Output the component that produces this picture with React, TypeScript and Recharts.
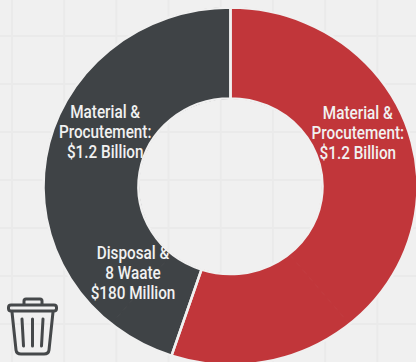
import { Cell, Pie, PieChart } from 'recharts'

// cost slices in $ millions, clockwise from twelve o'clock
const sliceNames = ['Material & Procurement', 'Unlabelled remainder', 'Disposal & Waste', 'Material & Procurement (dark)']
const sliceValues = [1200, 494, 180, 1200]
const sliceColors = ['#c1363a', '#c1363a', '#3f4346', '#3f4346']
const sliceLabels = [
  ['Material &', 'Procutement:', '$1.2 Billion'],
  [],
  ['Disposal &', '8 Waate', '$180 Million'],
  ['Material &', 'Procutement:', '$1.2 Billion'],
]
// the two coloured bands, only used to draw the gap between them
const redTotal = sliceValues[0] + sliceValues[1]
const darkTotal = sliceValues[2] + sliceValues[3]

const chartData = sliceNames.map((name, i) => ({ name, value: sliceValues[i] }))
const bandData = [
  { name: 'Red band', value: redTotal },
  { name: 'Dark band', value: darkTotal },
]

const BACKGROUND = '#f0f0f0'
const SQUASH_Y = 0.955 // the ring is a little wider than tall
const LINE_HEIGHT = 20
const labelNudge = [
  { dx: -4, dy: -9 },
  { dx: 0, dy: 0 },
  { dx: -30, dy: -31 },
  { dx: 6, dy: -10 },
]

interface SliceLabelProps {
  cx: number
  cy: number
  midAngle: number
  innerRadius: number
  outerRadius: number
  index: number
}

function SliceLabel({ cx, cy, midAngle, innerRadius, outerRadius, index }: SliceLabelProps) {
  const lines = sliceLabels[index]
  if (lines.length === 0) return null
  const r = (innerRadius + outerRadius) / 2
  const rad = (-midAngle * Math.PI) / 180
  const x = cx + r * Math.cos(rad) + labelNudge[index].dx
  const y = cy + r * Math.sin(rad) + labelNudge[index].dy
  return (
    <text
      transform={`translate(${x} ${y}) scale(0.9 ${1.1 / SQUASH_Y})`}
      textAnchor="middle"
      fill="#f1f1f1"
      fontFamily="Roboto, sans-serif"
      fontSize={17}
      fontWeight={500}
    >
      {lines.map((line, i) => (
        <tspan key={i} x={0} y={((i - 1) * LINE_HEIGHT + 6) / 1.1}>
          {line}
        </tspan>
      ))}
    </text>
  )
}

function TrashIcon() {
  return (
    <svg
      width={56}
      height={64}
      viewBox="0 0 56 64"
      style={{ position: 'absolute', left: 4, top: 295 }}
      fill="none"
      stroke="#45484a"
      strokeWidth={3}
      strokeLinecap="round"
      strokeLinejoin="round"
    >
      <path d="M20 9 V6 Q20 4 22 4 H36 Q38 4 38 6 V9" />
      <rect x={4.5} y={10} width={48} height={6} rx={2.5} />
      <path d="M8 17 L12 55 Q12.5 59 17 59 H40 Q44.5 59 45 55 L49 17" />
      <path d="M18 24 L19.5 51 M28.5 24 V51 M39 24 L37.5 51" />
    </svg>
  )
}

export default function App() {
  return (
    <div
      style={{
        position: 'absolute',
        left: 0,
        top: 0,
        width: 416,
        height: 362,
        overflow: 'hidden',
        backgroundColor: BACKGROUND,
        backgroundImage:
          'linear-gradient(#eaeaea 2px, transparent 2px), linear-gradient(90deg, #eaeaea 2px, transparent 2px)',
        backgroundSize: '52.2px 48px',
        backgroundPosition: '11px 35px',
      }}
    >
      <div style={{ position: 'absolute', left: 0, top: 0, transform: `scaleY(${SQUASH_Y})`, transformOrigin: '0 0' }}>
        <PieChart width={420} height={390} margin={{ top: 0, right: 0, bottom: 0, left: 0 }}>
          <Pie
            data={chartData}
            dataKey="value"
            cx={230.5}
            cy={195}
            innerRadius={92}
            outerRadius={187}
            startAngle={90}
            endAngle={-270}
            label={SliceLabel}
            labelLine={false}
            isAnimationActive={false}
          >
            {chartData.map((d, i) => (
              <Cell key={d.name} fill={sliceColors[i]} stroke={sliceColors[i]} strokeWidth={1} />
            ))}
          </Pie>
          {/* outline only, leaves a pale gap where the two bands meet */}
          <Pie
            data={bandData}
            dataKey="value"
            cx={230.5}
            cy={195}
            innerRadius={92}
            outerRadius={187}
            startAngle={90}
            endAngle={-270}
            fill="none"
            stroke={BACKGROUND}
            strokeWidth={2.5}
            isAnimationActive={false}
          />
        </PieChart>
      </div>
      <TrashIcon />
    </div>
  )
}
